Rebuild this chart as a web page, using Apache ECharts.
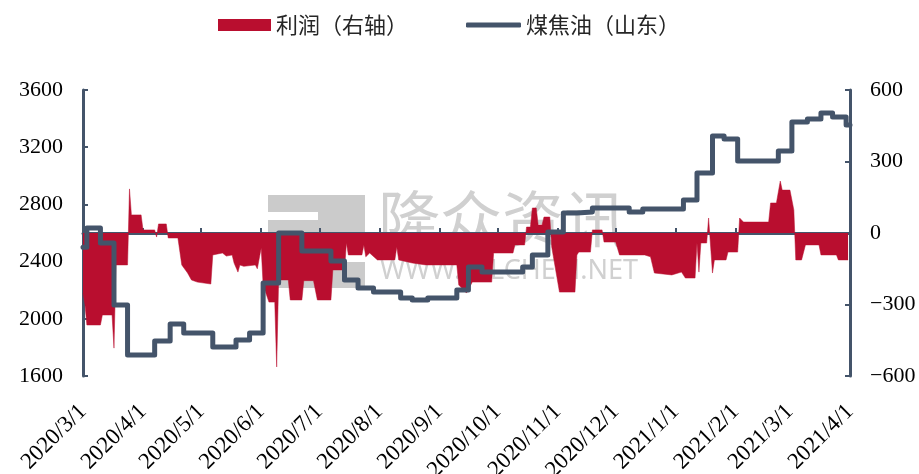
<!DOCTYPE html>
<html>
<head>
<meta charset="utf-8">
<script src="https://cdn.jsdelivr.net/npm/echarts@6/dist/echarts.min.js"></script>
<style>
html, body { margin: 0; padding: 0; background: #fff; }
#c1 { width: 919px; height: 474px; }
</style>
</head>
<body>
<div id="c1"></div>
<script>
// 煤焦油（山东）— step change points, left axis
var cokeDates = ['2020-03-01','2020-03-03','2020-03-10','2020-03-17','2020-03-24','2020-04-07','2020-04-15','2020-04-22',
    '2020-05-07','2020-05-19','2020-05-26','2020-06-02','2020-06-10','2020-06-22','2020-07-07','2020-07-14','2020-07-21',
    '2020-07-29','2020-08-12','2020-08-18','2020-08-26','2020-09-10','2020-09-16','2020-09-23','2020-10-14','2020-10-19',
    '2020-10-27','2020-11-04','2020-11-11','2020-11-19','2020-12-08','2020-12-15','2021-01-05','2021-01-12','2021-01-20',
    '2021-01-26','2021-02-02','2021-02-23','2021-03-02','2021-03-10','2021-03-17','2021-03-23','2021-03-30','2021-04-01'];
var cokePrice = [2500,2635,2530,2096,1747,1845,1964,1900,
    1803,1852,1900,2250,2600,2475,2404,2271,2215,
    2187,2145,2131,2145,2201,2362,2327,2362,2446,
    2607,2740,2747,2775,2747,2768,2831,3020,3278,
    3257,3103,3173,3376,3397,3439,3411,3355,3355];

// 利润（右轴）
var profitDates = ['2020-03-01','2020-03-02','2020-03-03','2020-03-10','2020-03-11','2020-03-16','2020-03-17','2020-03-18',
    '2020-03-24','2020-03-25','2020-03-26','2020-03-31','2020-04-01','2020-04-07','2020-04-08','2020-04-09','2020-04-13',
    '2020-04-14','2020-04-19','2020-04-21','2020-04-24','2020-04-26','2020-04-29','2020-04-30','2020-05-06','2020-05-07',
    '2020-05-12','2020-05-14','2020-05-15','2020-05-17','2020-05-18','2020-05-20','2020-05-21','2020-05-23','2020-05-29',
    '2020-05-30','2020-06-01','2020-06-02','2020-06-05','2020-06-08','2020-06-09','2020-06-10','2020-06-15','2020-06-16',
    '2020-06-22','2020-06-23','2020-06-28','2020-06-30','2020-07-07','2020-07-08','2020-07-14','2020-07-15','2020-07-16',
    '2020-07-23','2020-07-24','2020-07-25','2020-07-27','2020-07-31','2020-08-09','2020-08-10','2020-08-11','2020-08-18',
    '2020-08-25','2020-09-10','2020-09-11','2020-09-15','2020-09-18','2020-09-28','2020-09-29','2020-10-09','2020-10-10',
    '2020-10-15','2020-10-16','2020-10-18','2020-10-19','2020-10-21','2020-10-22','2020-10-24','2020-10-25','2020-10-28',
    '2020-10-29','2020-11-02','2020-11-10','2020-11-11','2020-11-12','2020-11-18','2020-11-19','2020-11-24','2020-11-25',
    '2020-12-01','2020-12-03','2020-12-16','2020-12-19','2020-12-21','2020-12-30','2021-01-04','2021-01-06','2021-01-11',
    '2021-01-12','2021-01-13','2021-01-14','2021-01-17','2021-01-18','2021-01-20','2021-01-21','2021-01-27','2021-01-28',
    '2021-02-02','2021-02-03','2021-02-05','2021-02-18','2021-02-19','2021-02-22','2021-02-24','2021-02-25','2021-03-01',
    '2021-03-03','2021-03-04','2021-03-07','2021-03-09','2021-03-16','2021-03-17','2021-03-25','2021-03-26','2021-03-31'];
var profit = [-252,-300,-386,-386,-344,-344,-483,-134,
    -134,185,76,76,13,13,-17,38,38,
    -21,-21,-134,-168,-197,-206,-214,-214,-92,
    -84,-97,-92,-92,-126,-164,-134,-140,-134,
    -150,-63,-218,-290,-290,-562,-197,-197,-281,
    -281,-200,-200,-281,-281,-155,-155,-42,-92,
    -92,-50,-100,-84,-113,-113,-59,-113,-126,
    -134,-134,-218,-252,-206,-206,-84,-84,-50,
    -50,25,25,105,105,34,34,67,67,
    -59,-248,-248,-92,-80,-80,13,13,-38,
    -38,-92,-92,-100,-168,-176,-164,-189,-189,
    -42,-164,-42,-42,63,-168,-113,-113,-80,
    -80,63,46,46,126,126,218,180,180,
    97,-113,-113,-50,-50,-92,-92,-113,-113];

var leftTicks = {min: 1600, max: 3600, interval: 400};
var rightTicks = {min: -600, max: 600, interval: 300};

var axisColor = '#44546A';
var redColor = '#B90E2F';
var serif = 'Liberation Serif';
var legendText = { fontFamily: 'Noto Sans CJK SC', fontSize: 22, color: '#262626' };

function pairs(xs, ys) {
    var out = [];
    for (var i = 0; i < xs.length; i++) out.push([xs[i], ys[i]]);
    return out;
}

var dom = document.getElementById('c1');
var myChart = echarts.init(dom);
var option = {
    animation: false,
    legend: [
        {
            top: 9, left: 213,
            itemWidth: 53, itemHeight: 12,
            textStyle: legendText,
            data: [{ name: '利润（右轴）', icon: 'rect' }]
        },
        {
            top: 9, left: 461,
            itemWidth: 55, itemHeight: 5,
            textStyle: legendText,
            data: [{ name: '煤焦油（山东）', icon: 'roundRect' }]
        }
    ],
    grid: { left: 83, right: 69, top: 90, bottom: 98, containLabel: false, outerBoundsMode: 'none' },
    graphic: [
        { type: 'rect', z: 0, shape: { x: 268, y: 195, width: 97, height: 17 }, style: { fill: '#cbcbcb' } },
        { type: 'rect', z: 0, shape: { x: 268, y: 220, width: 50, height: 14 }, style: { fill: '#cbcbcb' } },
        { type: 'rect', z: 0, shape: { x: 318, y: 195, width: 47, height: 40 }, style: { fill: '#cbcbcb' } },
        { type: 'rect', z: 0, shape: { x: 268, y: 262, width: 97, height: 26 }, style: { fill: '#cbcbcb' } },
        { type: 'text', z: 0, left: 378, top: 188, style: { text: '隆众资讯', fontFamily: 'Noto Sans CJK SC', fontSize: 62, fill: '#d0d0d0' } },
        { type: 'text', z: 0, left: 380, top: 258, style: { text: 'WWW.OILCHEM.NET', fontFamily: 'Noto Sans', fontSize: 27, fill: '#d0d0d0' } }
    ],
    xAxis: {
        type: 'time',
        min: '2020-03-01',
        max: '2021-04-01',
        splitNumber: 13,
        minInterval: 28 * 86400000,
        maxInterval: 31 * 86400000,
        axisLine: { lineStyle: { color: axisColor, width: 3 } },
        axisTick: { show: true, inside: true, length: 5, lineStyle: { color: axisColor, width: 2 } },
        splitLine: { show: false },
        axisLabel: {
            rotate: 45,
            margin: 32,
            hideOverlap: false,
            showMinLabel: true,
            showMaxLabel: true,
            fontFamily: serif,
            fontSize: 23,
            color: '#000',
            formatter: function (v) {
                var d = new Date(v);
                return d.getFullYear() + '/' + (d.getMonth() + 1) + '/' + d.getDate();
            }
        }
    },
    yAxis: [
        {
            type: 'value',
            min: leftTicks.min, max: leftTicks.max, interval: leftTicks.interval,
            axisLine: { show: true, lineStyle: { color: axisColor, width: 3 } },
            axisTick: { show: true, inside: true, length: 5, lineStyle: { color: axisColor, width: 2 } },
            splitLine: { show: false },
            axisLabel: {
                margin: 20, fontFamily: serif, fontSize: 22, color: '#000',
                formatter: function (v) { return String(v); }
            }
        },
        {
            type: 'value',
            position: 'right',
            min: rightTicks.min, max: rightTicks.max, interval: rightTicks.interval,
            axisLine: { show: true, lineStyle: { color: axisColor, width: 3 } },
            axisTick: { show: true, inside: true, length: 5, lineStyle: { color: axisColor, width: 2 } },
            splitLine: { show: false },
            axisLabel: {
                margin: 20, fontFamily: serif, fontSize: 22, color: '#000',
                formatter: function (v) { return v < 0 ? '\u2212' + Math.abs(v) : String(v); }
            }
        }
    ],
    series: [
        {
            name: '利润（右轴）',
            type: 'line',
            yAxisIndex: 1,
            symbol: 'none',
            color: redColor,
            lineStyle: { width: 0.5, color: redColor },
            areaStyle: { color: redColor, opacity: 1, origin: 0 },
            z: 2,
            data: pairs(profitDates, profit)
        },
        {
            name: '煤焦油（山东）',
            type: 'line',
            yAxisIndex: 0,
            step: 'end',
            symbol: 'none',
            color: axisColor,
            lineStyle: { width: 5, color: axisColor, cap: 'round', join: 'round' },
            z: 3,
            data: pairs(cokeDates, cokePrice)
        }
    ]
};
if (option && typeof option === "object") {
    myChart.setOption(option, true);
}
</script>
</body>
</html>
